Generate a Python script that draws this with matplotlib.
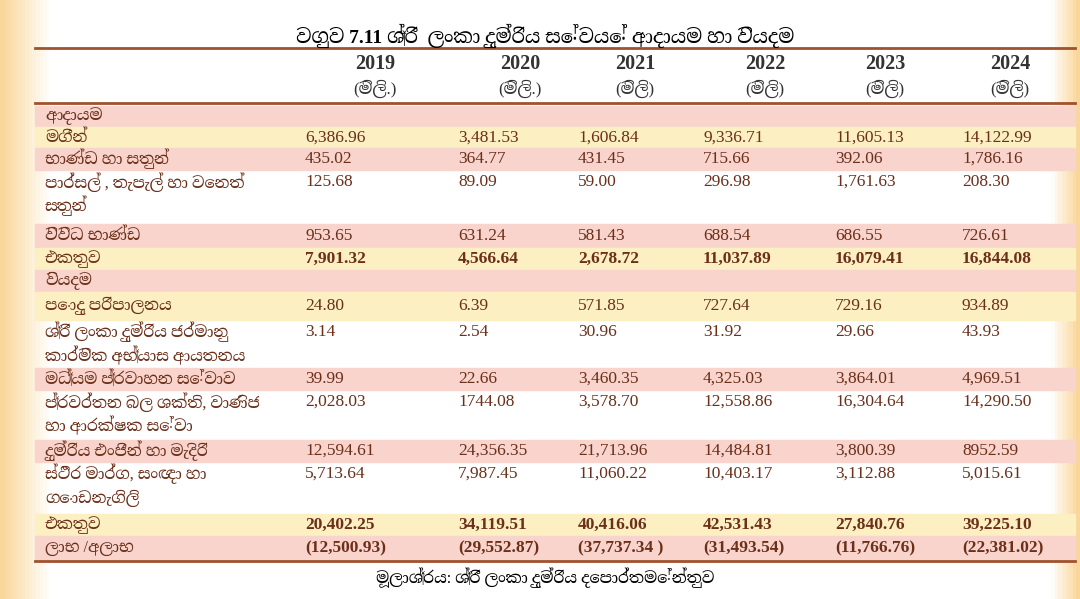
import numpy as np
import matplotlib.pyplot as plt
from matplotlib.patches import Rectangle
from matplotlib import font_manager
import warnings
warnings.filterwarnings('ignore')

years = ['2019', '2020', '2021', '2022', '2023', '2024']
units = ['(මිලි.)', '(මිලි.)', '(මිලි)', '(මිලි)', '(මිලි)', '(මිලි)']

labels = ['ආදායම', 'මගීන්', 'භාණ්ඩ හා සතුන්', 'පාර්සල් , තැපැල් හා වෙනත්\nසතුන්',
          'විවිධ භාණ්ඩ', 'එකතුව', 'වියදම', 'පොදු පරිපාලනය',
          'ශ්‍රී ලංකා දුම්රිය ජර්මානු\nකාර්මික අභ්‍යාස ආයතනය', 'මධ්‍යම ප්‍රවාහන සේවාව',
          'ප්‍රවර්තන බල ශක්ති, වාණිජ\nහා ආරක්ෂක සේවා', 'දුම්රිය එංජින් හා මැදිරි',
          'ස්ථිර මාර්ග, සංඥා හා\nගොඩනැගිලි', 'එකතුව', 'ලාභ /අලාභ']
values = [
    None,
    ['6,386.96', '3,481.53', '1,606.84', '9,336.71', '11,605.13', '14,122.99'],
    ['435.02', '364.77', '431.45', '715.66', '392.06', '1,786.16'],
    ['125.68', '89.09', '59.00', '296.98', '1,761.63', '208.30'],
    ['953.65', '631.24', '581.43', '688.54', '686.55', '726.61'],
    ['7,901.32', '4,566.64', '2,678.72', '11,037.89', '16,079.41', '16,844.08'],
    None,
    ['24.80', '6.39', '571.85', '727.64', '729.16', '934.89'],
    ['3.14', '2.54', '30.96', '31.92', '29.66', '43.93'],
    ['39.99', '22.66', '3,460.35', '4,325.03', '3,864.01', '4,969.51'],
    ['2,028.03', '1744.08', '3,578.70', '12,558.86', '16,304.64', '14,290.50'],
    ['12,594.61', '24,356.35', '21,713.96', '14,484.81', '3,800.39', '8952.59'],
    ['5,713.64', '7,987.45', '11,060.22', '10,403.17', '3,112.88', '5,015.61'],
    ['20,402.25', '34,119.51', '40,416.06', '42,531.43', '27,840.76', '39,225.10'],
    ['(12,500.93)', '(29,552.87)', '(37,737.34 )', '(31,493.54)', '(11,766.76)', '(22,381.02)'],
]
bold_rows = [5, 13, 14]

title = 'වගුව 7.11 ශ්‍රී  ලංකා දුම්රිය සේවයේ ආදායම හා වියදම'
source = 'මූලාශ්‍රය: ශ්‍රී ලංකා දුම්රිය දෙපාර්තමේන්තුව'

# layout in pixels
row_top = [106, 127, 148, 170, 224, 248, 270, 292, 320, 368, 390, 440, 462, 514, 536]
row_bot = row_top[1:] + [560]
pink, yellow = '#f8d4cc', '#fcefc2'
row_col = [pink, yellow, pink, None, pink, yellow, pink, yellow, None, pink, None, pink, None, yellow, pink]
num_x = [305, 458, 578, 703, 835, 962]
year_x = [375, 520, 635, 765, 885, 1010]
txt = '#6b2f1a'

avail = {f.name for f in font_manager.fontManager.ttflist}
fams = [f for f in ['Liberation Serif', 'Noto Serif Sinhala', 'Noto Sans Sinhala', 'Iskoola Pota', 'DejaVu Sans'] if f in avail]
plt.rcParams['font.family'] = fams

W, H = 1080, 599
fig = plt.figure(figsize=(W / 100, H / 100), dpi=100)
ax = fig.add_axes([0, 0, 1, 1])
ax.set_xlim(0, W)
ax.set_ylim(H, 0)
ax.axis('off')

# warm glow, stronger on the left edge
xs = np.linspace(0, 1, 300)
glow = np.clip(np.minimum(xs * 22, (1 - xs) * 40), 0, 1)
img = np.ones((10, 300, 3))
edge = np.array([0.98, 0.84, 0.6])
for c in range(3):
    img[:, :, c] = edge[c] + (1 - edge[c]) * glow
ax.imshow(img, extent=[0, W, H, 0], aspect='auto', zorder=0)

for t, b, c in zip(row_top, row_bot, row_col):
    if c:
        ax.add_patch(Rectangle((35, t), 1040, b - t, color=c, zorder=1))

for y in [48, 103, 561]:
    ax.plot([35, 1075], [y, y], color='#a0522d', lw=2, zorder=2)

ax.text(545, 36, title, ha='center', va='center', fontsize=14, fontweight='bold', color='black')
for x, yr, u in zip(year_x, years, units):
    ax.text(x, 64, yr, ha='center', va='center', fontsize=14.5, fontweight='bold', color='#333333')
    ax.text(x, 89, u, ha='center', va='center', fontsize=12, color='#333333')

for i, (lab, vals) in enumerate(zip(labels, values)):
    t, b = row_top[i], row_bot[i]
    lines = lab.split('\n')
    if len(lines) == 2:
        ax.text(45, t + 12, lines[0], ha='left', va='center', fontsize=11.5, color=txt)
        ax.text(45, t + 36, lines[1], ha='left', va='center', fontsize=11.5, color=txt)
        vy = t + 12
    else:
        ax.text(45, (t + b) / 2, lab, ha='left', va='center', fontsize=11.5, color=txt)
        vy = (t + b) / 2
    if vals:
        w = 'bold' if i in bold_rows else 'normal'
        for x, v in zip(num_x, vals):
            ax.text(x, vy, v, ha='left', va='center', fontsize=12.5, fontweight=w, color=txt)

ax.text(545, 578, source, ha='center', va='center', fontsize=11.5, color='black')

fig.savefig('out.png', dpi=100)
